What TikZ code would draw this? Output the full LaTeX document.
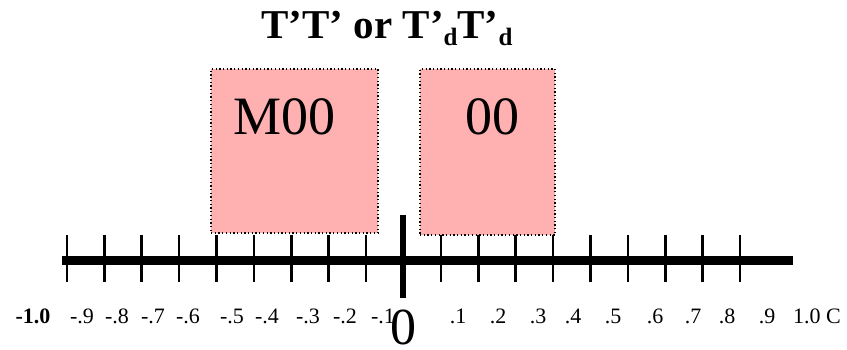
\documentclass[tikz,border=0pt]{standalone}
\usepackage{fontspec}
\setmainfont{Liberation Serif}
\usetikzlibrary{positioning}
\definecolor{cpink}{HTML}{FFB0B0}
\newcommand{\lowd}{\raisebox{-7pt}{\fontsize{25}{25}\selectfont d}}
\tikzset{
  every picture/.style={x=1pt, y=-1pt},
  region/.style={draw=black, fill=cpink, dash pattern=on 1.3pt off 2.4pt, line width=1.3pt, inner sep=0pt},
  axis/.style={line width=9pt},
  tick/.style={line width=2.6pt},
  title/.style={font=\fontsize{41}{44}\selectfont\bfseries, anchor=base},
  big/.style={font=\fontsize{54}{60}\selectfont, anchor=base},
  tlabel/.style={font=\fontsize{22}{24}\selectfont, anchor=base, inner sep=0pt},
}

\begin{document}
\begin{tikzpicture}
  \useasboundingbox (0,0) rectangle (847,349);
  \node[title] (head) at (387,38) {T’T’ or T’\lowd T’\lowd};
  % the two regions
  \node[region, minimum width=167pt, minimum height=164pt] (boxM) at (294.5,151) {};
  \node[region, minimum width=135pt, minimum height=166pt] (boxZ) at (487.5,152) {};
  \node[big] (txtM) at (285,134) {M00};
  \node[big] (txtZ) at (492,134) {00};
  % axis
  \coordinate (axL) at (62,260);
  \coordinate (axR) at (793,260);
  \draw[axis] (axL) -- (axR);
  \foreach \k in {1,...,9} {
    \draw[tick] (403.5-37.4*\k,235) -- (403.5-37.4*\k,282);
    \draw[tick] (403.5+37.4*\k,235) -- (403.5+37.4*\k,282);
  }
  \coordinate (zTop) at (403,215);
  \coordinate (zBot) at (403,298);
  \draw[line width=6pt] (zTop) -- (zBot);
  % tick labels
  \node[tlabel, font=\fontsize{22}{24}\selectfont\bfseries] (lm10) at (33,323) {-1.0};
  \foreach \t/\x [count=\i] in {-.9/82, -.8/117, -.7/153, -.6/188, -.5/232, -.4/267, -.3/308, -.2/345, -.1/383,
      .1/458, .2/498, .3/538, .4/573, .5/613, .6/655, .7/693, .8/727, .9/767, 1.0 C/817}
    \node[tlabel] (lab\i) at (\x,323) {\t};
  \node[big, font=\fontsize{52}{56}\selectfont] (zero) at (403,344) {0};
\end{tikzpicture}
\end{document}
